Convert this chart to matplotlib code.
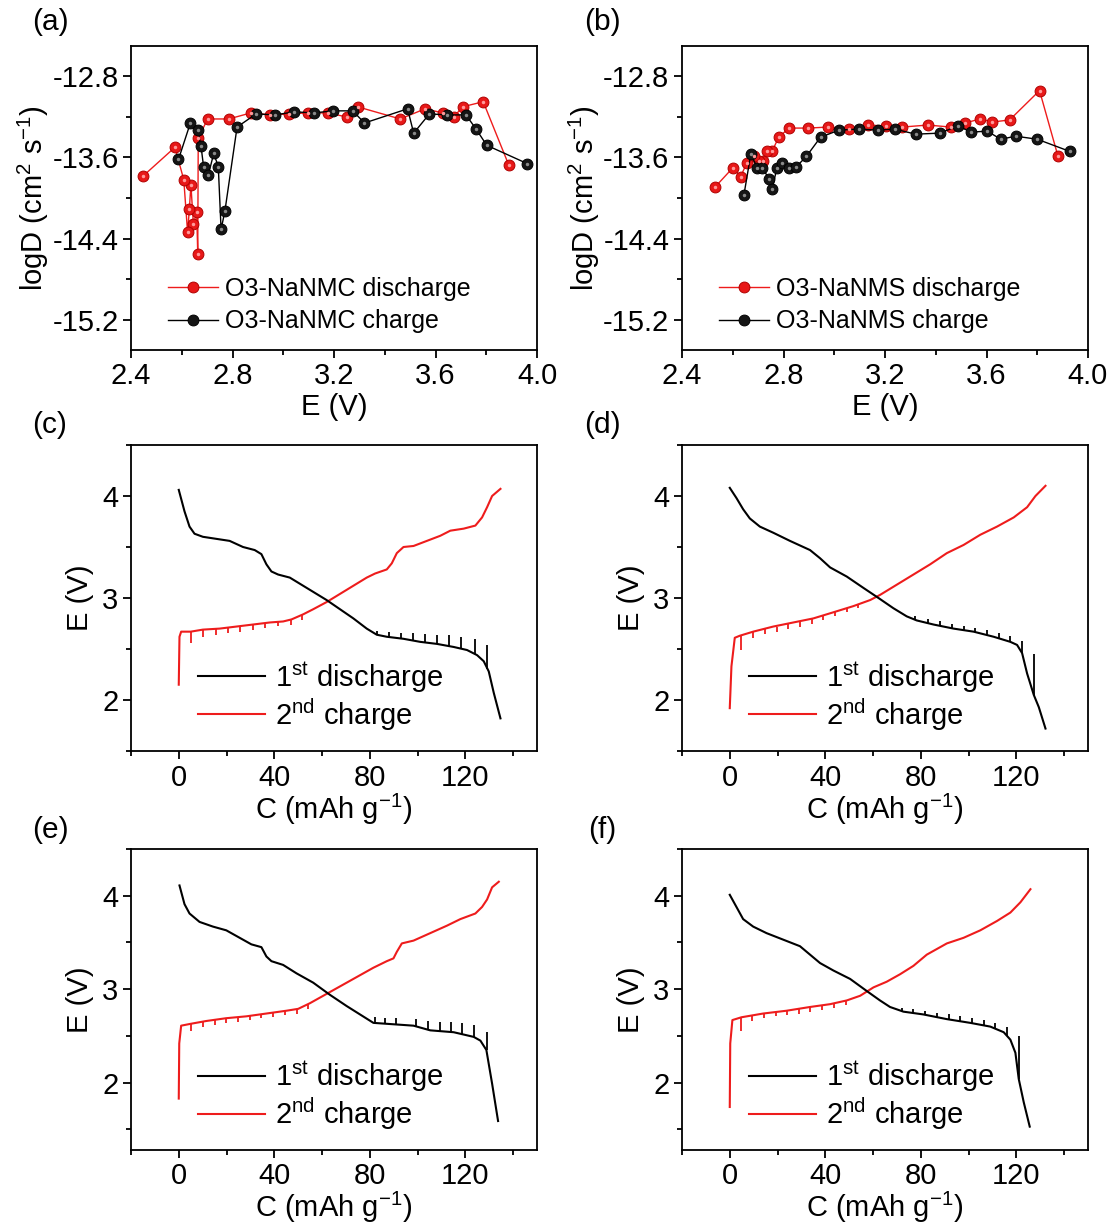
import numpy as np
import matplotlib
matplotlib.use("Agg")
import matplotlib.pyplot as plt
from matplotlib.ticker import MultipleLocator, FormatStrFormatter

plt.rcParams['font.family'] = ['Liberation Sans', 'DejaVu Sans']
plt.rcParams['mathtext.fontset'] = 'custom'
plt.rcParams['mathtext.rm'] = 'Liberation Sans'
plt.rcParams['mathtext.it'] = 'Liberation Sans:italic'
plt.rcParams['mathtext.bf'] = 'Liberation Sans:bold'

# ---------------- (a) O3-NaNMC GITT diffusion ----------------
a_dis_E = [3.888, 3.788, 3.707, 3.672, 3.628, 3.559, 3.461, 3.293, 3.250, 3.175, 3.099, 3.024,
           2.949, 2.873, 2.785, 2.702, 2.665, 2.663, 2.659, 2.646, 2.636, 2.630, 2.623, 2.608,
           2.573, 2.449]
a_dis_D = [-13.67, -13.05, -13.10, -13.20, -13.16, -13.12, -13.22, -13.10, -13.20, -13.16, -13.16,
           -13.17, -13.18, -13.16, -13.22, -13.22, -13.41, -14.55, -14.14, -14.26, -13.87, -14.11,
           -14.34, -13.82, -13.50, -13.78]
a_chg_E = [2.587, 2.634, 2.663, 2.676, 2.686, 2.705, 2.726, 2.744, 2.755, 2.770, 2.818, 2.893,
           2.967, 3.044, 3.122, 3.197, 3.274, 3.320, 3.490, 3.514, 3.576, 3.645, 3.720, 3.760,
           3.802, 3.961]
a_chg_D = [-13.62, -13.26, -13.33, -13.49, -13.69, -13.77, -13.56, -13.69, -14.31, -14.13, -13.30,
           -13.17, -13.18, -13.15, -13.16, -13.14, -13.14, -13.26, -13.12, -13.36, -13.17, -13.18,
           -13.18, -13.32, -13.48, -13.66]

# ---------------- (b) O3-NaNMS GITT diffusion ----------------
b_dis_E = [3.882, 3.809, 3.691, 3.623, 3.576, 3.514, 3.459, 3.369, 3.268, 3.205, 3.133, 3.057,
           2.975, 2.897, 2.822, 2.781, 2.755, 2.736, 2.719, 2.702, 2.684, 2.656, 2.631, 2.601,
           2.531]
b_dis_D = [-13.59, -12.94, -13.23, -13.25, -13.22, -13.26, -13.30, -13.28, -13.30, -13.29, -13.28,
           -13.32, -13.30, -13.31, -13.31, -13.40, -13.54, -13.54, -13.63, -13.63, -13.59, -13.65,
           -13.79, -13.70, -13.89]
b_chg_E = [2.644, 2.671, 2.697, 2.717, 2.742, 2.756, 2.774, 2.795, 2.822, 2.851, 2.890, 2.946,
           3.019, 3.096, 3.172, 3.238, 3.321, 3.415, 3.488, 3.540, 3.603, 3.656, 3.715, 3.800,
           3.928]
b_chg_D = [-13.97, -13.57, -13.70, -13.70, -13.81, -13.91, -13.70, -13.65, -13.70, -13.69, -13.59,
           -13.40, -13.33, -13.32, -13.33, -13.32, -13.37, -13.36, -13.29, -13.35, -13.34, -13.42,
           -13.39, -13.42, -13.54]

# ---------------- (c) ----------------
c_dis_C = [0, 2.4, 4.5, 6.6, 10.1, 15.7, 21.3, 26.9, 31.8, 34.6, 36.7, 38.8, 41.6, 46.5, 52.1, 57.7,
           61.9, 67.5, 73.1, 78.7, 82.9, 87.1, 94.1, 101.1, 108.1, 115.1, 120.7, 124.9, 127.7,
           129.8, 131.9, 134.7]
c_dis_V = [4.06, 3.85, 3.70, 3.63, 3.60, 3.58, 3.56, 3.50, 3.47, 3.43, 3.33, 3.26, 3.23, 3.20, 3.12,
           3.04, 2.98, 2.89, 2.80, 2.70, 2.64, 2.62, 2.60, 2.57, 2.55, 2.52, 2.49, 2.44, 2.38, 2.28,
           2.07, 1.82]
c_dis_spk_C = [83.2, 88.1, 93.2, 98.1, 103.0, 108.2, 113.2, 118.0, 124.0, 129.1]
c_dis_spk_a = [2.64, 2.62, 2.60, 2.58, 2.565, 2.55, 2.53, 2.505, 2.45, 2.30]
c_dis_spk_b = [2.68, 2.67, 2.66, 2.66, 2.65, 2.64, 2.64, 2.62, 2.60, 2.54]
c_chg_C = [0, 0.3, 1, 5, 10.1, 17.1, 24.1, 31.1, 38.1, 43.7, 47.2, 52.1, 56.3, 61.9, 67.5, 73.1,
           78.7, 82.2, 87.1, 89.2, 91.3, 94.1, 98.3, 103.9, 109.5, 113.7, 119.3, 124.2, 127.0,
           129.1, 131.2, 134.7]
c_chg_V = [2.15, 2.62, 2.67, 2.67, 2.69, 2.70, 2.72, 2.74, 2.76, 2.77, 2.79, 2.84, 2.89, 2.96, 3.04,
           3.12, 3.20, 3.24, 3.28, 3.34, 3.44, 3.50, 3.51, 3.56, 3.61, 3.66, 3.68, 3.71, 3.79, 3.89,
           4.00, 4.07]
c_chg_spk_C = [5.2, 10.1, 15.7, 20.6, 25.7, 31.1, 36.2, 41.6, 46.8, 51.8]
c_chg_spk_a = [2.67, 2.69, 2.70, 2.71, 2.72, 2.74, 2.755, 2.77, 2.785, 2.835]
c_chg_spk_b = [2.56, 2.62, 2.64, 2.66, 2.67, 2.69, 2.71, 2.73, 2.74, 2.78]

# ---------------- (d) ----------------
d_dis_C = [0, 2.8, 5.6, 8.4, 12.6, 18.2, 25.2, 33.6, 37.8, 42.0, 49.0, 55.9, 62.9, 68.5, 74.1, 78.3,
           85.3, 93.7, 102.1, 110.5, 117.5, 120.3, 122.4, 124.5, 127.3, 129.4, 132.2]
d_dis_V = [4.08, 3.98, 3.87, 3.78, 3.70, 3.64, 3.56, 3.47, 3.39, 3.30, 3.21, 3.10, 2.99, 2.90, 2.82,
           2.78, 2.74, 2.70, 2.67, 2.62, 2.57, 2.54, 2.46, 2.26, 2.05, 1.93, 1.72]
d_dis_spk_C = [77.6, 83.2, 88.1, 93.0, 97.9, 102.8, 107.7, 112.6, 117.5, 122.4, 127.3]
d_dis_spk_a = [2.785, 2.75, 2.73, 2.70, 2.685, 2.665, 2.64, 2.61, 2.57, 2.46, 2.05]
d_dis_spk_b = [2.82, 2.79, 2.77, 2.75, 2.73, 2.71, 2.69, 2.66, 2.63, 2.58, 2.45]
d_chg_C = [0, 0.7, 2.1, 4.2, 9.8, 18.2, 26.6, 35.0, 43.4, 51.7, 58.8, 62.9, 69.9, 76.9, 83.9, 90.9,
           97.9, 104.9, 111.9, 118.9, 124.5, 128.0, 132.2]
d_chg_V = [1.92, 2.33, 2.61, 2.63, 2.67, 2.72, 2.76, 2.80, 2.86, 2.92, 2.98, 3.03, 3.13, 3.23, 3.33,
           3.44, 3.52, 3.62, 3.70, 3.79, 3.89, 4.00, 4.10]
d_chg_spk_C = [4.9, 9.8, 14.7, 19.6, 24.5, 29.4, 34.3, 39.2, 44.1, 49.0, 53.9]
d_chg_spk_a = [2.635, 2.67, 2.70, 2.72, 2.75, 2.77, 2.80, 2.83, 2.865, 2.90, 2.94]
d_chg_spk_b = [2.49, 2.61, 2.65, 2.67, 2.70, 2.72, 2.75, 2.78, 2.82, 2.86, 2.90]

# ---------------- (e) ----------------
e_dis_C = [0.3, 2.4, 4.5, 8.7, 14.3, 19.9, 25.5, 30.4, 34.6, 36.7, 38.8, 43.7, 49.3, 56.3, 63.3,
           70.3, 75.9, 81.5, 87.1, 98.3, 105.3, 115.1, 123.5, 126.3, 128.8, 131.2, 133.7]
e_dis_V = [4.11, 3.91, 3.81, 3.72, 3.67, 3.63, 3.55, 3.48, 3.45, 3.35, 3.30, 3.26, 3.17, 3.07, 2.94,
           2.82, 2.73, 2.64, 2.63, 2.61, 2.56, 2.54, 2.49, 2.45, 2.35, 1.99, 1.59]
e_dis_spk_C = [82.1, 86.5, 91.1, 99.5, 104.4, 109.3, 114.0, 118.7, 123.6, 128.9]
e_dis_spk_a = [2.64, 2.63, 2.625, 2.60, 2.565, 2.55, 2.54, 2.52, 2.49, 2.35]
e_dis_spk_b = [2.70, 2.69, 2.69, 2.68, 2.66, 2.65, 2.65, 2.64, 2.62, 2.54]
e_chg_C = [0, 0.2, 1, 5, 11.5, 19.9, 28.3, 36.7, 45.1, 50.0, 54.9, 59.1, 64.7, 70.3, 75.9, 81.5,
           87.1, 89.9, 91.3, 93.4, 98.3, 105.3, 112.3, 117.9, 124.2, 127.0, 129.1, 131.2, 134.0]
e_chg_V = [1.83, 2.42, 2.61, 2.63, 2.66, 2.69, 2.71, 2.74, 2.77, 2.79, 2.85, 2.91, 2.99, 3.07, 3.15,
           3.23, 3.30, 3.33, 3.40, 3.49, 3.52, 3.60, 3.68, 3.75, 3.81, 3.88, 3.96, 4.09, 4.15]
e_chg_spk_C = [5.2, 10.1, 15.0, 19.9, 24.8, 29.7, 34.6, 39.5, 44.4, 49.3, 54.2]
e_chg_spk_a = [2.63, 2.655, 2.675, 2.69, 2.70, 2.715, 2.73, 2.75, 2.77, 2.785, 2.84]
e_chg_spk_b = [2.55, 2.60, 2.62, 2.64, 2.65, 2.67, 2.69, 2.70, 2.72, 2.74, 2.79]

# ---------------- (f) ----------------
f_dis_C = [0, 2.8, 5.6, 9.8, 15.4, 22.4, 29.4, 33.6, 37.8, 43.4, 50.4, 57.4, 62.9, 67.1, 72.7, 81.1,
           90.9, 100.7, 109.1, 114.7, 117.5, 119.6, 121.0, 123.1, 125.6]
f_dis_V = [4.01, 3.88, 3.75, 3.67, 3.60, 3.53, 3.46, 3.37, 3.28, 3.20, 3.11, 2.98, 2.88, 2.81, 2.76,
           2.73, 2.68, 2.64, 2.60, 2.54, 2.46, 2.32, 2.04, 1.79, 1.53]
f_dis_spk_C = [72.0, 76.9, 81.8, 86.7, 91.6, 96.5, 101.4, 106.3, 111.2, 116.1, 121.0]
f_dis_spk_a = [2.765, 2.745, 2.73, 2.70, 2.68, 2.66, 2.64, 2.61, 2.58, 2.50, 2.04]
f_dis_spk_b = [2.80, 2.79, 2.77, 2.75, 2.73, 2.71, 2.69, 2.67, 2.64, 2.60, 2.50]
f_chg_C = [0, 0.2, 1.1, 4.9, 14.0, 23.8, 33.6, 42.0, 49.0, 54.6, 60.2, 65.7, 71.3, 76.9, 82.5, 90.9,
           97.9, 104.9, 111.9, 117.5, 121.7, 125.9]
f_chg_V = [1.74, 2.42, 2.67, 2.70, 2.74, 2.77, 2.81, 2.84, 2.88, 2.93, 3.02, 3.08, 3.16, 3.25, 3.37,
           3.49, 3.55, 3.63, 3.73, 3.82, 3.93, 4.07]
f_chg_spk_C = [4.9, 9.5, 14.3, 19.2, 24.1, 29.0, 33.8, 38.7, 43.6, 48.5]
f_chg_spk_a = [2.70, 2.72, 2.74, 2.755, 2.77, 2.79, 2.81, 2.825, 2.845, 2.875]
f_chg_spk_b = [2.55, 2.66, 2.69, 2.71, 2.72, 2.74, 2.76, 2.78, 2.80, 2.83]

diff_legend_a = ['O3-NaNMC discharge', 'O3-NaNMC charge']
diff_legend_b = ['O3-NaNMS discharge', 'O3-NaNMS charge']
curve_legend = ['1$^{\\mathrm{st}}$ discharge', '2$^{\\mathrm{nd}}$ charge']
panel_tags = ['(a)', '(b)', '(c)', '(d)', '(e)', '(f)']

# ---------------- layout ----------------
W, H = 1111, 1227
fig = plt.figure(figsize=(W / 100, H / 100), dpi=100)
fig.patch.set_facecolor('white')

cols = [(131, 537), (682, 1088)]
rows = [(46, 350), (445, 751), (849, 1150)]


def make_ax(ci, ri):
    x0, x1 = cols[ci]
    t, b = rows[ri]
    return fig.add_axes([x0 / W, 1 - b / H, (x1 - x0) / W, (b - t) / H])


RED = '#ee1c1c'
TICK_FS = 21
LABEL_FS = 21


def style(ax):
    for s in ax.spines.values():
        s.set_linewidth(1.3)
    ax.tick_params(which='both', direction='out', top=False, right=False,
                   labelsize=TICK_FS, width=1.3, pad=3)
    ax.tick_params(which='major', length=6)
    ax.tick_params(which='minor', length=3.5)


def diff_panel(ax, dE, dD, cE, cD, labels):
    ax.plot(dE, dD, '-', color=RED, lw=1.0, marker='o', ms=7.8, mfc='#e81818',
            mec='#b00000', mew=0.7, label=labels[0], zorder=3)
    ax.plot(cE, cD, '-', color='black', lw=1.0, marker='o', ms=7.8, mfc='#151515',
            mec='black', mew=0.7, label=labels[1], zorder=3)
    # highlight to mimic the glossy balls
    ax.plot(dE, dD, 'o', ls='none', ms=2.5, mfc='#ff9a9a', mec='none', zorder=4)
    ax.plot(cE, cD, 'o', ls='none', ms=2.5, mfc='#8a8a8a', mec='none', zorder=4)
    ax.set_xlim(2.4, 4.0)
    ax.set_ylim(-15.5, -12.5)
    ax.xaxis.set_major_locator(MultipleLocator(0.4))
    ax.xaxis.set_minor_locator(MultipleLocator(0.2))
    ax.set_yticks([-12.8, -13.6, -14.4, -15.2])
    ax.set_yticks([-13.2, -14.0, -14.8], minor=True)
    ax.xaxis.set_major_formatter(FormatStrFormatter('%.1f'))
    ax.yaxis.set_major_formatter(FormatStrFormatter('%.1f'))
    ax.set_xlabel('E (V)', fontsize=LABEL_FS, labelpad=2)
    ax.set_ylabel('logD (cm$^{2}$ s$^{-1}$)', fontsize=LABEL_FS, labelpad=1)
    style(ax)
    ax.legend(loc='lower left', bbox_to_anchor=(0.09, 0.055), frameon=False, fontsize=18,
              handlelength=2.0, handletextpad=0.3, labelspacing=0.35, borderpad=0,
              borderaxespad=0)


def curve_panel(ax, dC, dV, dsC, dsA, dsB, cC, cV, csC, csA, csB, ylo, xpad):
    ax.plot(dC, dV, color='black', lw=1.5, label=curve_legend[0], zorder=3)
    ax.vlines(dsC, dsA, dsB, color='black', lw=1.3, zorder=3)
    ax.plot(cC, cV, color=RED, lw=1.5, label=curve_legend[1], zorder=2)
    ax.vlines(csC, csB, csA, color=RED, lw=1.3, zorder=2)
    ax.set_xlim(-20, 150)
    ax.set_ylim(ylo, 4.5)
    ax.xaxis.set_major_locator(MultipleLocator(40))
    ax.xaxis.set_minor_locator(MultipleLocator(20))
    ax.yaxis.set_major_locator(MultipleLocator(1))
    ax.yaxis.set_minor_locator(MultipleLocator(0.5))
    ax.set_xlabel('C (mAh g$^{-1}$)', fontsize=LABEL_FS, labelpad=xpad)
    ax.set_ylabel('E (V)', fontsize=LABEL_FS, labelpad=6)
    style(ax)
    ax.legend(loc='lower left', bbox_to_anchor=(0.165, 0.06), frameon=False, fontsize=21,
              handlelength=2.3, handletextpad=0.35, labelspacing=0.05, borderpad=0,
              borderaxespad=0)


ax_a = make_ax(0, 0)
diff_panel(ax_a, a_dis_E, a_dis_D, a_chg_E, a_chg_D, diff_legend_a)
ax_b = make_ax(1, 0)
diff_panel(ax_b, b_dis_E, b_dis_D, b_chg_E, b_chg_D, diff_legend_b)

ax_c = make_ax(0, 1)
curve_panel(ax_c, c_dis_C, c_dis_V, c_dis_spk_C, c_dis_spk_a, c_dis_spk_b,
            c_chg_C, c_chg_V, c_chg_spk_C, c_chg_spk_a, c_chg_spk_b, 1.5, 0)
ax_d = make_ax(1, 1)
curve_panel(ax_d, d_dis_C, d_dis_V, d_dis_spk_C, d_dis_spk_a, d_dis_spk_b,
            d_chg_C, d_chg_V, d_chg_spk_C, d_chg_spk_a, d_chg_spk_b, 1.5, 0)
ax_e = make_ax(0, 2)
curve_panel(ax_e, e_dis_C, e_dis_V, e_dis_spk_C, e_dis_spk_a, e_dis_spk_b,
            e_chg_C, e_chg_V, e_chg_spk_C, e_chg_spk_a, e_chg_spk_b, 1.28, -0.5)
ax_f = make_ax(1, 2)
curve_panel(ax_f, f_dis_C, f_dis_V, f_dis_spk_C, f_dis_spk_a, f_dis_spk_b,
            f_chg_C, f_chg_V, f_chg_spk_C, f_chg_spk_a, f_chg_spk_b, 1.28, -0.5)

tag_pos = [(50, 22), (602, 22), (50, 425), (602, 425), (50, 830), (602, 830)]
for tag, (px, py) in zip(panel_tags, tag_pos):
    fig.text(px / W, 1 - py / H, tag, fontsize=21.5, ha='center', va='center')

fig.savefig('out.png', dpi=100, facecolor='white')
